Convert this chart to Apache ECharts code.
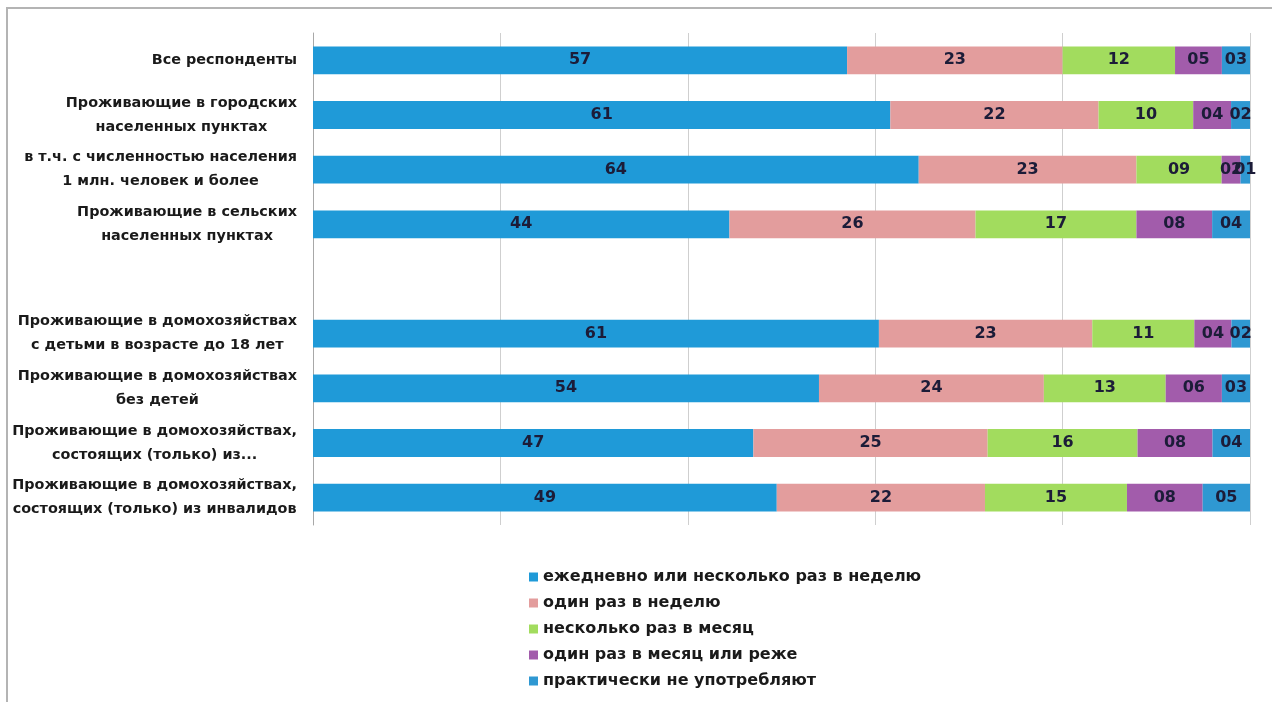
<!DOCTYPE html>
<html>
<head>
<meta charset="utf-8">
<script src="https://cdn.jsdelivr.net/npm/echarts@6/dist/echarts.min.js"></script>
<style>html,body{margin:0;padding:0;background:#fff}#c{width:1272px;height:702px}</style>
</head>
<body>
<div id="c"></div>
<script>
const categories = [
  'Все респонденты',
  'Проживающие в городских\nнаселенных пунктах',
  'в т.ч. с численностью населения\n1 млн. человек и более',
  'Проживающие в сельских\nнаселенных пунктах',
  '',
  'Проживающие в домохозяйствах\nс детьми в возрасте до 18 лет',
  'Проживающие в домохозяйствах\nбез детей',
  'Проживающие в домохозяйствах,\nсостоящих (только) из...',
  'Проживающие в домохозяйствах,\nсостоящих (только) из инвалидов'
];
const seriesNames = [
  'ежедневно или несколько раз в неделю',
  'один раз в неделю',
  'несколько раз в месяц',
  'один раз в месяц или реже',
  'практически не употребляют'
];
const daily        = [57, 61, 64, 44, null, 61, 54, 47, 49];
const weekly       = [23, 22, 23, 26, null, 23, 24, 25, 22];
const severalMonth = [12, 10,  9, 17, null, 11, 13, 16, 15];
const onceMonth    = [ 5,  4,  2,  8, null,  4,  6,  8,  8];
const never        = [ 3,  2,  1,  4, null,  2,  3,  4,  5];
const xTicks = [0, 20, 40, 60, 80, 100];

const colors = ['#1f9ad8', '#e39d9d', '#a2dc5e', '#a25cab', '#2f98d2'];
const allSeries = [daily, weekly, severalMonth, onceMonth, never];

// 100% stacked: share of each row
const rowSums = categories.map((_, i) => allSeries.reduce((s, a) => s + (a[i] || 0), 0));

const FONT = 'DejaVu Sans';

const series = allSeries.map((arr, k) => ({
  name: seriesNames[k],
  type: 'bar',
  stack: 'total',
  barCategoryGap: '49%',
  itemStyle: { color: colors[k] },
  label: {
    show: true,
    position: 'inside',
    color: '#1c1c38',
    fontFamily: FONT,
    fontWeight: 'bold',
    fontSize: 16,
    formatter: p => String(p.data.raw).padStart(2, '0')
  },
  data: arr.map((v, i) => v == null ? { value: null, raw: null } : { value: v / rowSums[i] * 100, raw: v })
}));

const chart = echarts.init(document.getElementById('c'));
chart.setOption({
  animation: false,
  color: colors,
  graphic: [{
    type: 'rect',
    shape: { x: 7, y: 8, width: 1400, height: 900 },
    style: { fill: 'none', stroke: '#b4b4b4', lineWidth: 2 },
    silent: true
  }],
  grid: { left: 313, right: 22, top: 33, height: 492 },
  xAxis: {
    type: 'value',
    min: xTicks[0],
    max: xTicks[xTicks.length - 1],
    interval: 20,
    axisLabel: { show: false },
    axisLine: { show: false },
    axisTick: { show: false },
    splitLine: { lineStyle: { color: '#cfcfcf', width: 1 } }
  },
  yAxis: {
    type: 'category',
    inverse: true,
    data: categories,
    axisLine: { lineStyle: { color: '#a8a8a8', width: 1 } },
    axisTick: { length: 5, lineStyle: { color: '#a8a8a8' } },
    axisLabel: {
      margin: 16,
      color: '#1a1a1a',
      fontFamily: FONT,
      fontWeight: 'bold',
      fontSize: 14.4,
      lineHeight: 24,
      formatter: v => v.split('\n').map(l => '{c|' + l + '}').join('\n'),
      rich: { c: { align: 'center', fontFamily: FONT, fontWeight: 'bold', fontSize: 14.4, lineHeight: 24, color: '#1a1a1a' } }
    }
  },
  legend: {
    orient: 'vertical',
    left: 524,
    top: 564,
    icon: 'rect',
    itemWidth: 9,
    itemHeight: 9,
    itemGap: 10,
    textStyle: { color: '#1a1a1a', fontFamily: FONT, fontWeight: 'bold', fontSize: 16 },
    data: seriesNames
  },
  series: series
});
</script>
</body>
</html>
